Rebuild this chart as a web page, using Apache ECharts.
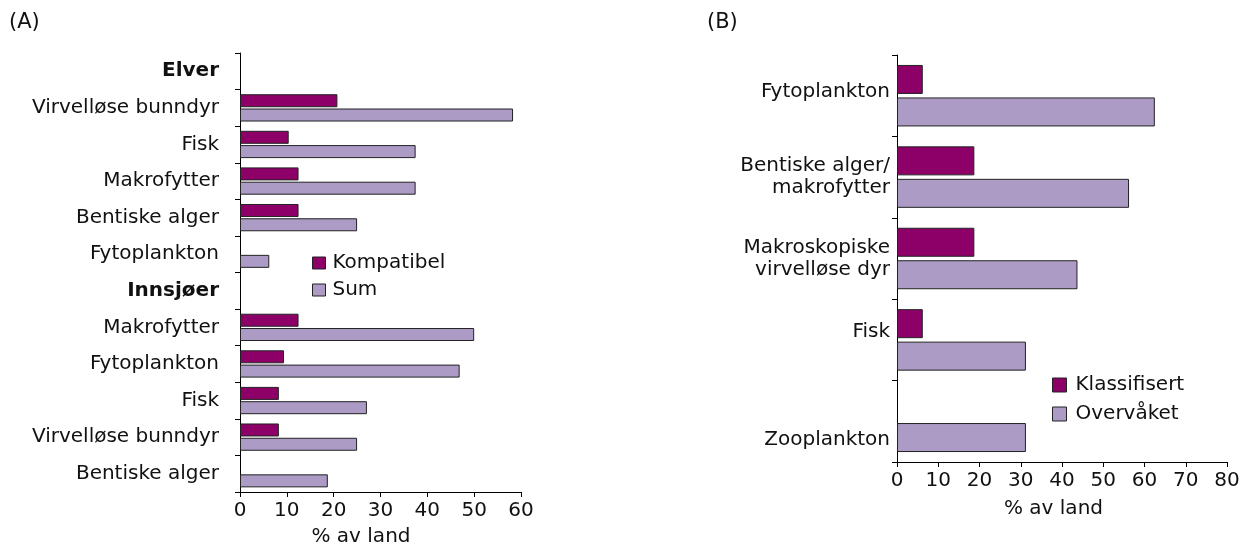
<!DOCTYPE html>
<html>
<head>
<meta charset="utf-8">
<script src="https://cdn.jsdelivr.net/npm/echarts@6/dist/echarts.min.js"></script>
<style>
  html, body { margin: 0; padding: 0; background: #fff; }
  #chart { width: 1240px; height: 545px; }
</style>
</head>
<body>
<div id="chart"></div>
<script>
// Panel A: rivers (Elver) and lakes (Innsjøer) per quality element
const categoriesA = ['Elver', 'Virvelløse bunndyr', 'Fisk', 'Makrofytter', 'Bentiske alger', 'Fytoplankton',
                     'Innsjøer', 'Makrofytter', 'Fytoplankton', 'Fisk', 'Virvelløse bunndyr', 'Bentiske alger'];
const kompatibel = [null, 20.8, 10.4, 12.5, 12.5, null, null, 12.5, 9.4, 8.3, 8.3, null];
const sum        = [null, 58.3, 37.5, 37.5, 25.0, 6.25, null, 50.0, 46.9, 27.1, 25.0, 18.75];
const headingsA  = ['Elver', 'Innsjøer'];
const ticksA     = [0, 10, 20, 30, 40, 50, 60];

// Panel B: quality elements classified vs. monitored
const categoriesB = ['Fytoplankton', 'Bentiske alger/\nmakrofytter', 'Makroskopiske\nvirvelløse dyr', 'Fisk', 'Zooplankton'];
const klassifisert = [6.25, 18.75, 18.75, 6.25, null];
const overvaket    = [62.5, 56.25, 43.75, 31.25, 31.25];
const ticksB       = [0, 10, 20, 30, 40, 50, 60, 70, 80];

const FONT = 'DejaVu Sans';
const TXT = '#111';
const DARK = '#8c0068';
const LIGHT = '#ab9bc5';
const FS = 20;

const chart = echarts.init(document.getElementById('chart'), null, { renderer: 'canvas' });

const valueAxisBase = {
  type: 'value',
  splitLine: { show: false },
  axisLine: { show: true, lineStyle: { color: '#000', width: 1 } },
  axisTick: { show: true, length: 5, lineStyle: { color: '#000' } },
  axisLabel: { fontFamily: FONT, fontSize: FS, color: TXT, margin: 9 },
  name: '% av land',
  nameLocation: 'middle',
  nameTextStyle: { fontFamily: FONT, fontSize: FS, color: TXT }
};

const catAxisBase = {
  type: 'category',
  inverse: true,
  axisLine: { show: true, lineStyle: { color: '#000', width: 1 } },
  axisTick: { show: true, length: 5, lineStyle: { color: '#000' } }
};

// vertical nudges for some panel B labels (rich-text padding)
const shiftB = { 0: 'u4', 3: 'u9', 4: 'd18' };

const option = {
  backgroundColor: '#fff',
  animation: false,
  title: [
    { text: '(A)', left: 4, top: 7, textStyle: { fontFamily: FONT, fontSize: 21, fontWeight: 'normal', color: TXT } },
    { text: '(B)', left: 702, top: 7, textStyle: { fontFamily: FONT, fontSize: 21, fontWeight: 'normal', color: TXT } }
  ],
  legend: [
    {
      data: ['Kompatibel', 'Sum'],
      orient: 'vertical', left: 307, top: 248,
      itemWidth: 13, itemHeight: 12, itemGap: 7, itemStyle: { borderColor: '#222', borderWidth: 1 },
      textStyle: { fontFamily: FONT, fontSize: FS, color: TXT, padding: [0, 0, 0, 2] },
      icon: 'rect'
    },
    {
      data: ['Klassifisert', 'Overvåket'],
      orient: 'vertical', left: 1047, top: 370,
      itemWidth: 14, itemHeight: 14, itemGap: 9, itemStyle: { borderColor: '#222', borderWidth: 1 },
      textStyle: { fontFamily: FONT, fontSize: FS, color: TXT, padding: [0, 0, 0, 4] },
      icon: 'rect'
    }
  ],
  grid: [
    { left: 240, top: 53, width: 281, height: 439, containLabel: false, outerBoundsMode: 'none' },
    { left: 897, top: 55, width: 330, height: 407, containLabel: false, outerBoundsMode: 'none' }
  ],
  xAxis: [
    Object.assign({}, valueAxisBase, {
      gridIndex: 0, min: ticksA[0], max: ticksA[ticksA.length - 1], interval: ticksA[1] - ticksA[0],
      nameGap: 35,
      nameTextStyle: Object.assign({}, valueAxisBase.nameTextStyle, { padding: [0, 39, 0, 0] })
    }),
    Object.assign({}, valueAxisBase, {
      gridIndex: 1, min: ticksB[0], max: ticksB[ticksB.length - 1], interval: ticksB[1] - ticksB[0],
      nameGap: 37,
      nameTextStyle: Object.assign({}, valueAxisBase.nameTextStyle, { padding: [0, 17, 0, 0] })
    })
  ],
  yAxis: [
    Object.assign({}, catAxisBase, {
      gridIndex: 0,
      data: categoriesA,
      axisLabel: {
        margin: 21,
        fontFamily: FONT, fontSize: FS, color: TXT,
        formatter: function (v, i) {
          return headingsA.indexOf(v) >= 0 && (i === 0 || i === 6) ? '{b|' + v + '}' : v;
        },
        rich: { b: { fontFamily: FONT, fontSize: FS, fontWeight: 'bold', color: TXT } }
      }
    }),
    Object.assign({}, catAxisBase, {
      gridIndex: 1,
      data: categoriesB,
      axisLabel: {
        margin: 7,
        fontFamily: FONT, fontSize: FS, color: TXT, lineHeight: 22,
        formatter: function (v, i) {
          const lines = v.split('\n');
          const key = shiftB[i];
          return lines.map(function (l, k) {
            return (key && k === lines.length - 1) ? '{' + key + '|' + l + '}' : '{n|' + l + '}';
          }).join('\n');
        },
        rich: {
          n:   { fontFamily: FONT, fontSize: FS, color: TXT, lineHeight: 22 },
          u4:  { fontFamily: FONT, fontSize: FS, color: TXT, lineHeight: 22, padding: [0, 0, 8, 0] },
          u9:  { fontFamily: FONT, fontSize: FS, color: TXT, lineHeight: 22, padding: [0, 0, 17, 0] },
          d18: { fontFamily: FONT, fontSize: FS, color: TXT, lineHeight: 22, padding: [36, 0, 0, 0] }
        }
      }
    })
  ],
  series: [
    {
      name: 'Kompatibel', type: 'bar', xAxisIndex: 0, yAxisIndex: 0, data: kompatibel,
      barWidth: 13, barGap: '10%',
      itemStyle: { color: DARK, borderColor: '#222', borderWidth: 1 }
    },
    {
      name: 'Sum', type: 'bar', xAxisIndex: 0, yAxisIndex: 0, data: sum,
      barWidth: 13, barGap: '10%',
      itemStyle: { color: LIGHT, borderColor: '#222', borderWidth: 1 }
    },
    {
      name: 'Klassifisert', type: 'bar', xAxisIndex: 1, yAxisIndex: 1, data: klassifisert,
      barWidth: 29, barGap: '12%',
      itemStyle: { color: DARK, borderColor: '#222', borderWidth: 1 }
    },
    {
      name: 'Overvåket', type: 'bar', xAxisIndex: 1, yAxisIndex: 1, data: overvaket,
      barWidth: 29, barGap: '12%',
      itemStyle: { color: LIGHT, borderColor: '#222', borderWidth: 1 }
    }
  ]
};

chart.setOption(option);
</script>
</body>
</html>
